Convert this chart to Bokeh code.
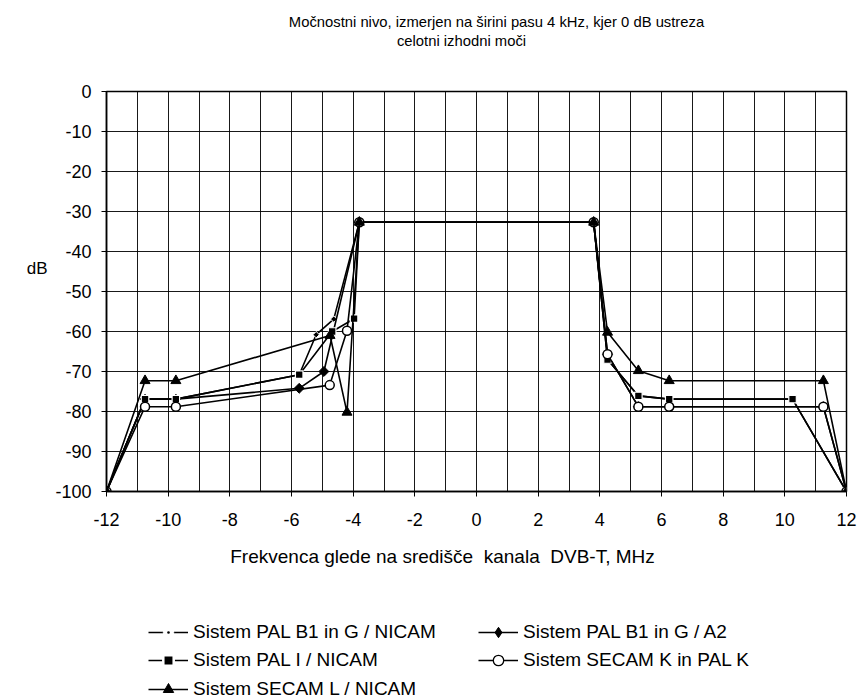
import math
from bokeh.plotting import figure
from bokeh.layouts import column
from bokeh.models import FixedTicker, Legend, LegendItem, Range1d, Label
from bokeh.embed import file_html
from bokeh.resources import INLINE

# ---------------- data ----------------
series_names = [
    "Sistem PAL B1 in G / NICAM",
    "Sistem PAL B1 in G / A2",
    "Sistem PAL I / NICAM",
    "Sistem SECAM K in PAL K",
    "Sistem SECAM L / NICAM",
]

freq_pal_b1_nicam = [-12, -10.75, -9.75, -5.75, -5.2, -4.63, -3.8, 3.8, 4.25, 5.25, 6.25, 10.25, 12]
db_pal_b1_nicam = [-100, -76.9, -76.9, -70.8, -60.8, -56.9, -32.7, -32.7, -67, -76.1, -76.9, -76.9, -100]

freq_pal_b1_a2 = [-12, -10.75, -9.75, -5.75, -4.95, -3.8, 3.8, 4.25, 5.25, 6.25, 11.25, 12]
db_pal_b1_a2 = [-100, -76.9, -76.9, -74.2, -70.0, -32.7, -32.7, -65.7, -78.8, -78.8, -78.8, -100]

freq_pal_i = [-12, -10.75, -9.75, -5.75, -4.68, -3.97, -3.8, 3.8, 4.25, 5.25, 6.25, 10.25, 12]
db_pal_i = [-100, -76.9, -76.9, -70.8, -60.0, -56.8, -32.7, -32.7, -67, -76.1, -76.9, -76.9, -100]

freq_secam_k = [-12, -10.75, -9.75, -4.76, -4.2, -3.8, 3.8, 4.25, 5.25, 6.25, 11.25, 12]
db_secam_k = [-100, -78.8, -78.8, -73.4, -59.8, -32.7, -32.7, -65.7, -78.8, -78.8, -78.8, -100]

freq_secam_l = [-12, -10.75, -9.75, -4.75, -4.2, -3.8, 3.8, 4.25, 5.25, 6.25, 11.25, 12]
db_secam_l = [-100, -72.3, -72.3, -61.0, -80.2, -32.7, -32.7, -60.2, -69.8, -72.3, -72.3, -100]

x_ticks = [-12, -10, -8, -6, -4, -2, 0, 2, 4, 6, 8, 10, 12]
x_tick_labels = ["-12", "-10", "-8", "-6", "-4", "-2", "0", "2", "4", "6", "8", "10", "12"]
y_ticks = [0, -10, -20, -30, -40, -50, -60, -70, -80, -90, -100]
y_tick_labels = ["0", "-10", "-20", "-30", "-40", "-50", "-60", "-70", "-80", "-90", "-100"]
x_grid_step = 1

title_line1 = "Močnostni nivo, izmerjen na širini pasu 4 kHz, kjer 0 dB ustreza"
title_line2 = "celotni izhodni moči"
x_title = "Frekvenca glede na središče\u00a0 kanala\u00a0 DVB-T, MHz"
y_title = "dB\n\n"

FONT = "Liberation Sans"
W = 857
BL, BR = 106, 11          # left / right borders shared by all panels
FW = W - BL - BR          # frame width (740)

datasets = [
    (freq_pal_b1_nicam, db_pal_b1_nicam),
    (freq_pal_b1_a2, db_pal_b1_a2),
    (freq_pal_i, db_pal_i),
    (freq_secam_k, db_secam_k),
    (freq_secam_l, db_secam_l),
]
LW = 1.6
marker_styles = [
    dict(marker="square", size=4.5, angle=math.pi / 4, fill_color="black", line_color="white", line_width=1),
    dict(marker="square", size=7, angle=math.pi / 4, fill_color="black", line_color="black", line_width=1),
    dict(marker="square", size=7.5, fill_color="black", line_color="white", line_width=1.2),
    dict(marker="circle", size=9, fill_color="white", line_color="black", line_width=1.5),
    dict(marker="triangle", size=10, fill_color="black", line_color="black", line_width=1),
]
# legend glyph markers (legend draws all markers at one size, unrotated)
legend_marker_styles = [
    [dict(marker="circle", fill_color="white", line_color="white", line_width=1),
     dict(marker="dot", fill_color="black", line_color="black", line_width=1)],
    [dict(marker="diamond", fill_color="black", line_color="black", line_width=1)],
    [dict(marker="square", fill_color="white", line_color="white", line_width=1),
     dict(marker="square", fill_color="black", line_color="white", line_width=2.5)],
    [dict(marker="circle", fill_color="white", line_color="black", line_width=1.3)],
    [dict(marker="triangle", fill_color="black", line_color="black", line_width=1)],
]


def blank_panel(h):
    f = figure(width=W, height=h, x_range=Range1d(0, FW), y_range=Range1d(0, h),
               output_backend="svg", toolbar_location=None,
               x_axis_location=None, y_axis_location=None,
               min_border_left=BL, min_border_right=BR,
               min_border_top=0, min_border_bottom=0)
    f.outline_line_color = None
    f.background_fill_color = "white"
    f.border_fill_color = "white"
    f.grid.visible = False
    return f


# ---------------- title panel ----------------
HT = 81
top = blank_panel(HT)
top.add_layout(Label(x=390, y=HT - 21, text=title_line1, text_align="center", text_baseline="middle",
                     text_font=FONT, text_font_size="14.8px", text_color="black"))
top.add_layout(Label(x=355, y=HT - 40, text=title_line2, text_align="center", text_baseline="middle",
                     text_font=FONT, text_font_size="14.8px", text_color="black"))

# ---------------- main plot ----------------
p = figure(width=W, height=460,
           x_range=Range1d(-12, 12), y_range=Range1d(-100, 0),
           output_backend="svg", toolbar_location=None,
           min_border_left=BL, min_border_right=BR,
           min_border_top=10, min_border_bottom=50)
p.background_fill_color = "white"
p.border_fill_color = "white"
p.outline_line_color = "black"
p.outline_line_width = 1.5

p.xgrid.ticker = FixedTicker(ticks=list(range(x_ticks[0], x_ticks[-1] + 1, x_grid_step)))
p.ygrid.ticker = FixedTicker(ticks=y_ticks)
for g in (p.xgrid, p.ygrid):
    g.grid_line_color = "black"
    g.grid_line_width = 1
    g.grid_line_alpha = 0.9

p.xaxis.ticker = FixedTicker(ticks=x_ticks)
p.xaxis.major_label_overrides = dict(zip(x_ticks, x_tick_labels))
p.yaxis.ticker = FixedTicker(ticks=y_ticks)
p.yaxis.major_label_overrides = dict(zip(y_ticks, y_tick_labels))
for ax in (p.xaxis, p.yaxis):
    ax.axis_line_color = "black"
    ax.axis_line_width = 1.5
    ax.major_tick_line_color = "black"
    ax.major_tick_in = 0
    ax.major_tick_out = 5
    ax.minor_tick_line_color = None
    ax.major_label_text_font = FONT
    ax.major_label_text_font_size = "18px"
    ax.major_label_text_color = "black"
p.xaxis.major_label_standoff = 16
p.yaxis.major_label_standoff = 10

p.yaxis.axis_label = y_title
p.yaxis.axis_label_text_font = FONT
p.yaxis.axis_label_text_font_size = "17px"
p.yaxis.axis_label_text_font_style = "normal"
p.yaxis.axis_label_text_color = "black"
p.yaxis.axis_label_standoff = 5
try:
    p.yaxis.axis_label_orientation = "horizontal"
except Exception:
    pass

for (xs, ys), ms in zip(datasets, marker_styles):
    p.line(xs, ys, line_color="black", line_width=LW)
    p.scatter(xs, ys, **ms)

# ---------------- bottom panel: x title + legend ----------------
HB = 699 - HT - 460
bot = blank_panel(HB)
bot.add_layout(Label(x=336, y=HB - 15, text=x_title, text_align="center", text_baseline="middle",
                     text_font=FONT, text_font_size="19px", text_color="black"))

# legend-only renderers (same series data, lying outside this panel's view)
legend_pos = [(42, 0), (372, 0), (42, 1), (372, 1), (42, 2)]
row_centers = [90.5, 119, 147.5]
LH = 26
for name, (xs, ys), lms, (lx, row) in zip(series_names, datasets, legend_marker_styles, legend_pos):
    rends = [bot.line(xs, ys, line_color="black", line_width=LW)]
    for ms in lms:
        rends.append(bot.scatter(xs, ys, **ms))
    leg = Legend(items=[LegendItem(label=name, renderers=rends)],
                 location=(lx, HB - (row_centers[row] + LH / 2)),
                 border_line_color=None, background_fill_alpha=0,
                 padding=0, margin=0, spacing=0,
                 glyph_width=40, glyph_height=LH, label_height=LH,
                 label_standoff=5, label_text_font=FONT,
                 label_text_font_size="19px", label_text_color="black")
    bot.add_layout(leg)

layout = column(top, p, bot, spacing=0)
open("out.html", "w").write(file_html(layout, INLINE))
